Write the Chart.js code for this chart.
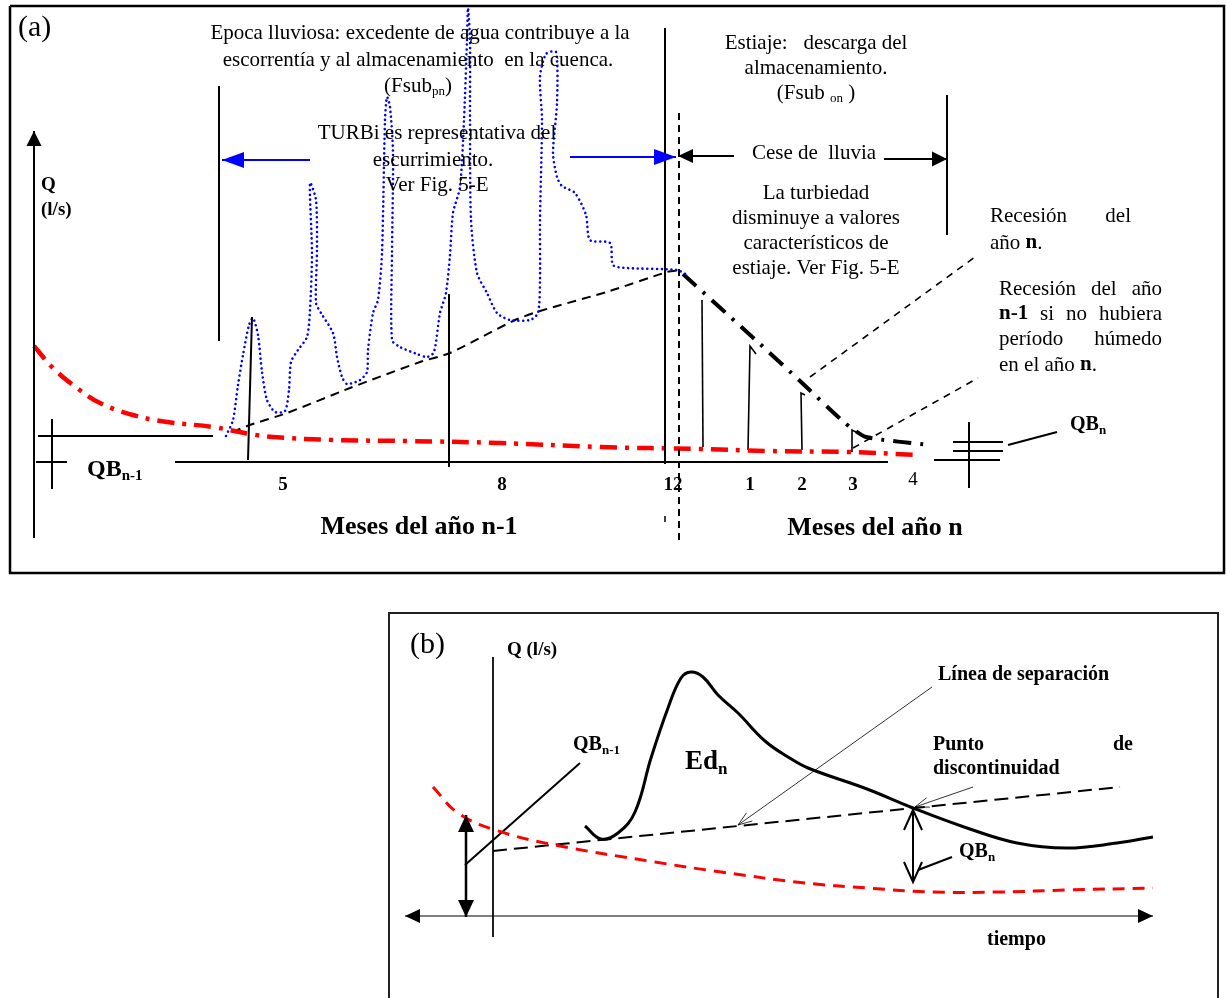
<!DOCTYPE html>
<html>
<head>
<meta charset="utf-8">
<script src="https://cdn.jsdelivr.net/npm/chart.js@4.4.1/dist/chart.umd.min.js"></script>
<style>
  body { margin: 0; background: #fff; }
  canvas { display: block; }
</style>
</head>
<body>
<canvas id="diagram" width="1226" height="998"></canvas>
<script>
// ---- panel (a): annual cycle (page units) ----
const frameA = [[10, 6], [1224, 6], [1224, 573], [10, 573], [10, 6]];
const qAxisA = [[34, 538], [34, 131]];
const monthAxisA = [[175, 462], [888, 462]];
const axisStubA = [[36, 462], [67, 462]];
const qbPrevLevel = [[38, 436], [213, 436]];
const qbPrevTick = [[52, 419], [52, 489]];
const axisTailA = [[934, 460], [1000, 460]];
const qbNowLevel1 = [[953, 442], [1003, 442]];
const qbNowLevel2 = [[953, 451], [1003, 451]];
const qbNowTick = [[969, 422], [969, 488]];
const qbNowLeader = [[1008, 445], [1057, 432]];
const rainStart = [[219, 86], [219, 341]];
const month5 = [[252, 317], [248, 460]];
const month8 = [[449, 294], [449, 467]];
const month12 = [[665, 28], [665, 464]];
const month12Mark = [[665, 516], [665, 522]];
const rainStop = [[679, 113], [679, 540]];
const dryEnd = [[947, 95], [947, 235]];
const wetArrowLeft = [[310, 160], [222, 160]];
const wetArrowRight = [[570, 157], [676, 157]];
const dryArrowLeft = [[734, 156], [678, 156]];
const dryArrowRight = [[884, 159], [947, 159]];

// recession of year n-1 (red dash-dot)
const recessionPrev = [[34, 346], [53, 368], [77, 388], [100, 403], [133, 415], [167, 422],
  [213, 427], [250, 434], [273, 437], [333, 440], [407, 441], [500, 443], [600, 447],
  [700, 449], [767, 451], [847, 452], [920, 455]];
// turbidity / runoff trace (blue dotted)
const turbiTrace = [[226, 436], [233, 420], [238, 385], [243, 355], [249, 325], [253, 318],
  [258, 335], [262, 372], [267, 400], [275, 412], [285, 411], [289, 390], [291, 362],
  [298, 350], [307, 337], [310, 310], [312, 253], [310, 183], [316, 200], [317, 250],
  [316, 303], [321, 313], [333, 333], [337, 357], [342, 377], [347, 384], [360, 380],
  [367, 372], [368, 350], [373, 313], [378, 300], [382, 253], [385, 120], [387, 97],
  [390, 107], [393, 153], [392, 253], [392, 340], [400, 347], [417, 354], [427, 357],
  [434, 352], [440, 313], [446, 293], [450, 255], [453, 213], [460, 187], [464, 120],
  [467, 40], [468, 8], [470, 40], [470, 120], [471, 220], [477, 273], [487, 293],
  [497, 313], [510, 320], [530, 320], [538, 313], [540, 280], [540, 220], [542, 120],
  [540, 77], [546, 54], [556, 52], [557, 103], [553, 153], [557, 177], [562, 186],
  [575, 193], [586, 215], [590, 240], [610, 243], [613, 265], [627, 268], [677, 270],
  [687, 275]];
// baseflow separation line during wet season (black dashed)
const separationA = [[232, 432], [250, 425], [287, 413], [350, 388], [420, 362], [450, 353],
  [515, 320], [540, 311], [610, 291], [667, 272], [681, 270]];
// recession of year n (black dash-dot)
const recessionNow = [[683, 274], [760, 344], [800, 381], [845, 423], [866, 437], [930, 445]];
// small dry-season events (thin spikes)
const spike1 = [[703, 447], [702, 300]];
const spike2 = [[748, 450], [750, 346], [756, 354]];
const spike3 = [[802, 450], [801, 393], [805, 395]];
const spike4 = [[852, 452], [852, 430], [858, 433]];
const leaderNow = [[810, 377], [975, 257]];
const leaderPrev = [[853, 448], [978, 378]];

// ---- panel (b): single event, hydrograph separation ----
const frameB = [[389, 1004], [389, 613], [1218, 613], [1218, 1004]];
const qAxisB = [[493, 657], [493, 937]];
const timeAxisB = [[405, 916], [1153, 916]];
const baseflowB = [[433, 787], [458, 813], [495, 830], [555, 845], [655, 862], [721, 872],
  [805, 883], [867, 888], [933, 892], [1000, 892], [1067, 890], [1153, 888]];
const separationB = [[493, 851], [1120, 787]];
const hydrographB = [[585, 826], [601, 839], [618, 833], [635, 812], [651, 758], [668, 708],
  [681, 678], [691, 672], [703, 677], [718, 695], [738, 713], [765, 741], [788, 757],
  [808, 768], [867, 789], [913, 808], [967, 828], [1017, 843], [1067, 848], [1117, 843],
  [1153, 837]];
const qbPrevArrowB = [[466, 815], [466, 917]];
const qbPrevLeaderB = [[580, 763], [465, 865]];
const separacionLeader = [[932, 687], [738, 825]];
const puntoLeader = [[973, 787], [915, 807]];
const qbNowArrowB = [[913, 810], [913, 882]];
const qbNowLeaderB = [[952, 857], [918, 870]];

// month tick labels
const monthTicks = [[283, "5"], [502, "8"], [673, "12"], [750, "1"], [802, "2"], [853, "3"]];

const BLACK = "#000";
const RED = "#ff0000";
const BLUE = "#0000ff";

function line(pts, opts) {
  return Object.assign({
    data: pts.map(p => ({ x: p[0], y: p[1] })),
    showLine: true,
    pointRadius: 0,
    borderColor: BLACK,
    borderWidth: 2,
    tension: 0,
    fill: false,
    clip: false
  }, opts || {});
}

const filled = (len, w) => ({ type: "filled", len: len, w: w });
const open = (len, w, lw) => ({ type: "open", len: len, w: w, lw: lw });

const datasets = [
  line(frameA, { borderWidth: 2.5 }),
  line(qAxisA, { borderWidth: 2, arrowEnd: filled(15, 7.5) }),
  line(monthAxisA),
  line(axisStubA),
  line(qbPrevLevel),
  line(qbPrevTick),
  line(axisTailA),
  line(qbNowLevel1),
  line(qbNowLevel2),
  line(qbNowTick),
  line(qbNowLeader),
  line(rainStart),
  line(month5),
  line(month8),
  line(month12),
  line(month12Mark, { borderWidth: 1.5 }),
  line(rainStop, { borderDash: [7, 5] }),
  line(dryEnd),
  line(wetArrowLeft, { borderColor: BLUE, arrowEnd: filled(22, 8), arrowColor: BLUE }),
  line(wetArrowRight, { borderColor: BLUE, arrowEnd: filled(22, 8), arrowColor: BLUE }),
  line(dryArrowLeft, { arrowEnd: filled(15, 7) }),
  line(dryArrowRight, { arrowEnd: filled(15, 7.5) }),
  line(recessionPrev, { borderColor: RED, borderWidth: 4.5, borderDash: [17, 8, 4, 8], tension: 0.4 }),
  line(turbiTrace, { borderColor: BLUE, borderWidth: 2.6, borderDash: [0.01, 4.8], borderCapStyle: "round", tension: 0.25 }),
  line(separationA, { borderWidth: 2, borderDash: [9, 6], tension: 0.2 }),
  line(recessionNow, { borderWidth: 4, borderDash: [18, 9, 3, 9], tension: 0.2 }),
  line(spike1, { borderWidth: 1.6 }),
  line(spike2, { borderWidth: 1.6 }),
  line(spike3, { borderWidth: 1.6 }),
  line(spike4, { borderWidth: 1.6 }),
  line(leaderNow, { borderWidth: 1.6, borderDash: [7, 6] }),
  line(leaderPrev, { borderWidth: 1.6, borderDash: [7, 6] }),

  line(frameB, { borderColor: "#222", borderWidth: 2 }),
  line(qAxisB, { borderWidth: 1 }),
  line(timeAxisB, { borderWidth: 1, arrowStart: filled(15, 7), arrowEnd: filled(15, 7) }),
  line(baseflowB, { borderColor: RED, borderWidth: 3, borderDash: [12, 8], tension: 0.4 }),
  line(separationB, { borderWidth: 2, borderDash: [14, 7] }),
  line(hydrographB, { borderWidth: 3, tension: 0.4 }),
  line(qbPrevArrowB, { borderWidth: 2.5, arrowStart: filled(17, 8), arrowEnd: filled(17, 8) }),
  line(qbPrevLeaderB, { borderWidth: 2 }),
  line(separacionLeader, { borderWidth: 0.8, arrowEnd: open(14, 5, 0.8) }),
  line(puntoLeader, { borderWidth: 0.8, arrowEnd: open(14, 5, 0.8) }),
  line(qbNowArrowB, { borderWidth: 2, arrowStart: open(20, 9, 2), arrowEnd: open(20, 9, 2) }),
  line(qbNowLeaderB, { borderWidth: 2 })
];

// text annotations: [x, y, text, size, align, bold]
const notes = [
  [18, 28, "(a)", 30, "left", false],
  [420, 33, "Epoca lluviosa: excedente de agua contribuye a la", 21, "center", false],
  [418, 60, "escorrentía y al almacenamiento  en la cuenca.", 21, "center", false],
  [418, 86, "(Fsub_{pn})", 21, "center", false],
  [437, 133, "TURBi es representativa del", 21, "center", false],
  [433, 160, "escurrimiento.", 21, "center", false],
  [437, 185, "Ver Fig. 5-E", 21, "center", false],
  [816, 43, "Estiaje:   descarga del", 21, "center", false],
  [816, 68, "almacenamiento.", 21, "center", false],
  [816, 93, "(Fsub _{on} )", 21, "center", false],
  [814, 153, "Cese de  lluvia", 21, "center", false],
  [816, 193, "La turbiedad", 21, "center", false],
  [816, 218, "disminuye a valores", 21, "center", false],
  [816, 243, "característicos de", 21, "center", false],
  [816, 268, "estiaje. Ver Fig. 5-E", 21, "center", false],
  [990, 243, "año **n**.", 21, "left", false],
  [999, 365, "en el año **n**.", 21, "left", false],
  [41, 185, "Q", 19, "left", true],
  [41, 210, "(l/s)", 19, "left", true],
  [87, 470, "QB_{n-1}", 24, "left", true],
  [1070, 425, "QB_{n}", 20, "left", true],
  [913, 480, "4", 19, "center", false],
  [419, 527, "Meses del año n-1", 26, "center", true],
  [875, 528, "Meses del año n", 26, "center", true],

  [410, 645, "(b)", 30, "left", false],
  [507, 650, "Q (l/s)", 19, "left", true],
  [573, 745, "QB_{n-1}", 20, "left", true],
  [685, 762, "Ed_{n}", 27, "left", true],
  [938, 675, "Línea de separación", 20, "left", true],
  [933, 769, "discontinuidad", 20, "left", true],
  [959, 852, "QB_{n}", 20, "left", true],
  [987, 940, "tiempo", 20, "left", true]
];

// justified lines: [x, y, width, words, size, bold]
const justified = [
  [990, 216, 141, ["Recesión", "del"], 21, false],
  [999, 289, 163, ["Recesión", "del", "año"], 21, false],
  [999, 314, 163, ["**n-1**", "si", "no", "hubiera"], 21, false],
  [999, 339, 163, ["período", "húmedo"], 21, false],
  [933, 745, 200, ["Punto", "de"], 20, true]
];

const FAMILY = '"Liberation Serif", "Times New Roman", serif';

function parseRich(s, bold) {
  const runs = [];
  let buf = "";
  let i = 0;
  const push = () => { if (buf) { runs.push({ t: buf, bold: bold, sub: false }); buf = ""; } };
  while (i < s.length) {
    if (s.startsWith("**", i)) { push(); bold = !bold; i += 2; }
    else if (s.startsWith("_{", i)) {
      push();
      const j = s.indexOf("}", i);
      runs.push({ t: s.slice(i + 2, j), bold: bold, sub: true });
      i = j + 1;
    } else { buf += s[i]; i++; }
  }
  push();
  return runs;
}

function runFont(r, size) {
  const px = r.sub ? Math.round(size * 0.64) : size;
  return (r.bold ? "bold " : "") + px + "px " + FAMILY;
}

function richWidth(ctx, runs, size) {
  let w = 0;
  runs.forEach(r => { ctx.font = runFont(r, size); w += ctx.measureText(r.t).width; });
  return w;
}

function drawRich(ctx, x, y, s, size, align, bold) {
  const runs = parseRich(s, bold);
  let cx = x;
  if (align === "center") cx = x - richWidth(ctx, runs, size) / 2;
  runs.forEach(r => {
    ctx.font = runFont(r, size);
    ctx.fillText(r.t, cx, r.sub ? y + size * 0.27 : y);
    cx += ctx.measureText(r.t).width;
  });
}

const textPlugin = {
  id: "notes",
  afterDraw(chart) {
    const ctx = chart.ctx;
    const sx = chart.scales.x, sy = chart.scales.y;
    ctx.save();
    ctx.fillStyle = BLACK;
    ctx.textBaseline = "middle";
    ctx.textAlign = "left";
    notes.forEach(n => {
      drawRich(ctx, sx.getPixelForValue(n[0]), sy.getPixelForValue(n[1]), n[2], n[3], n[4], n[5]);
    });
    justified.forEach(j => {
      const x0 = sx.getPixelForValue(j[0]);
      const x1 = sx.getPixelForValue(j[0] + j[2]);
      const y = sy.getPixelForValue(j[1]);
      const widths = j[3].map(w => richWidth(ctx, parseRich(w, j[5]), j[4]));
      const gap = (x1 - x0 - widths.reduce((a, b) => a + b, 0)) / (j[3].length - 1);
      let cx = x0;
      j[3].forEach((w, k) => { drawRich(ctx, cx, y, w, j[4], "left", j[5]); cx += widths[k] + gap; });
    });
    monthTicks.forEach(t => {
      drawRich(ctx, sx.getPixelForValue(t[0]), sy.getPixelForValue(485), t[1], 19, "center", true);
    });
    ctx.restore();
  }
};

function drawHead(ctx, from, to, spec, color) {
  const ang = Math.atan2(to.y - from.y, to.x - from.x);
  const bx = to.x - Math.cos(ang) * spec.len;
  const by = to.y - Math.sin(ang) * spec.len;
  const nx = -Math.sin(ang) * spec.w;
  const ny = Math.cos(ang) * spec.w;
  ctx.beginPath();
  if (spec.type === "filled") {
    ctx.moveTo(to.x, to.y);
    ctx.lineTo(bx + nx, by + ny);
    ctx.lineTo(bx - nx, by - ny);
    ctx.closePath();
    ctx.fillStyle = color;
    ctx.fill();
  } else {
    ctx.moveTo(bx + nx, by + ny);
    ctx.lineTo(to.x, to.y);
    ctx.lineTo(bx - nx, by - ny);
    ctx.strokeStyle = color;
    ctx.lineWidth = spec.lw;
    ctx.setLineDash([]);
    ctx.stroke();
  }
}

const arrowPlugin = {
  id: "arrows",
  afterDatasetsDraw(chart) {
    const ctx = chart.ctx;
    ctx.save();
    chart.data.datasets.forEach((ds, i) => {
      if (!ds.arrowEnd && !ds.arrowStart) return;
      const pts = chart.getDatasetMeta(i).data;
      const color = ds.arrowColor || BLACK;
      if (ds.arrowEnd) drawHead(ctx, pts[pts.length - 2], pts[pts.length - 1], ds.arrowEnd, color);
      if (ds.arrowStart) drawHead(ctx, pts[1], pts[0], ds.arrowStart, color);
    });
    ctx.restore();
  }
};

const whiteBg = {
  id: "whiteBg",
  beforeDraw(chart) {
    const ctx = chart.ctx;
    ctx.save();
    ctx.fillStyle = "#fff";
    ctx.fillRect(0, 0, chart.width, chart.height);
    ctx.restore();
  }
};

new Chart(document.getElementById("diagram").getContext("2d"), {
  type: "scatter",
  data: { datasets: datasets },
  options: {
    responsive: false,
    animation: false,
    events: [],
    layout: { padding: 0 },
    plugins: { legend: { display: false }, tooltip: { enabled: false } },
    scales: {
      x: { type: "linear", min: 0, max: 1226, display: false },
      y: { type: "linear", min: 0, max: 998, reverse: true, display: false }
    }
  },
  plugins: [whiteBg, arrowPlugin, textPlugin]
});
</script>
</body>
</html>
